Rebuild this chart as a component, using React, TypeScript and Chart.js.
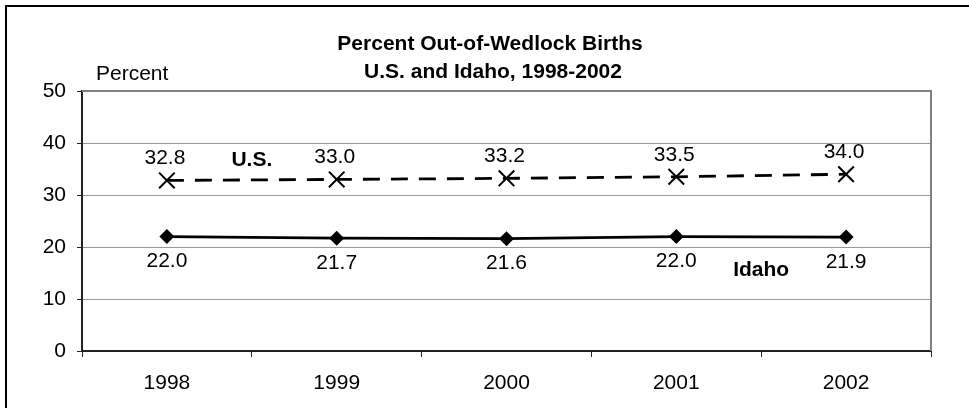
import React, { useEffect, useRef } from "react";
import { Chart, registerables } from "chart.js";

Chart.register(...registerables);

const years = ["1998", "1999", "2000", "2001", "2002"];
const usValues = [32.8, 33.0, 33.2, 33.5, 34.0];
const idahoValues = [22.0, 21.7, 21.6, 22.0, 21.9];
const yMin = 0;
const yMax = 50;
const yStep = 10;
const titleLines = ["Percent Out-of-Wedlock Births", "U.S. and Idaho, 1998-2002"];
const yAxisLabel = "Percent";
const seriesNames = ["U.S.", "Idaho"];

const FONT = "'Liberation Sans', Arial, sans-serif";

const decorPlugin = {
  id: "decor",
  afterDraw(chart: any) {
    const ctx = chart.ctx as CanvasRenderingContext2D;
    const area = chart.chartArea;
    const xs = chart.scales.x;
    const ys = chart.scales.y;
    ctx.save();
    // outer frame (top & left)
    ctx.fillStyle = "#000";
    ctx.fillRect(5, 5, chart.width - 5, 2);
    ctx.fillRect(5, 5, 2, chart.height - 5);

    // plot area border (top & right)
    ctx.fillStyle = "#808080";
    ctx.fillRect(area.left, area.top - 1, area.right - area.left + 1, 2);
    ctx.fillRect(area.right - 1, area.top - 1, 2, area.bottom - area.top + 1);

    // title
    ctx.fillStyle = "#000";
    ctx.textAlign = "center";
    ctx.textBaseline = "alphabetic";
    ctx.font = `bold 21px ${FONT}`;
    ctx.fillText(titleLines[0], 490, 50);
    ctx.fillText(titleLines[1], 493, 78);

    // y axis label
    ctx.font = `21px ${FONT}`;
    ctx.textAlign = "left";
    ctx.fillText(yAxisLabel, 96, 80);

    // data labels
    ctx.textAlign = "center";
    ctx.textBaseline = "middle";
    ctx.font = `21px ${FONT}`;
    usValues.forEach((v, i) => {
      const x = xs.getPixelForValue(i);
      const y = ys.getPixelForValue(v);
      ctx.fillText(v.toFixed(1), x - 2, y - 22);
    });
    idahoValues.forEach((v, i) => {
      const x = xs.getPixelForValue(i);
      const y = ys.getPixelForValue(v);
      ctx.fillText(v.toFixed(1), x, y + 25);
    });

    // series names
    ctx.font = `bold 21px ${FONT}`;
    ctx.fillText(seriesNames[0], xs.getPixelForValue(0.5), ys.getPixelForValue(36.7));
    ctx.fillText(seriesNames[1], xs.getPixelForValue(3.5), ys.getPixelForValue(15.6));
    ctx.restore();
  },
};

export default function App() {
  const ref = useRef<HTMLCanvasElement | null>(null);
  useEffect(() => {
    document.body.style.margin = "0";
    const canvas = ref.current!;
    const chart = new Chart(canvas, {
      type: "line",
      data: {
        labels: years,
        datasets: [
          {
            label: seriesNames[0],
            data: usValues,
            borderColor: "#000",
            backgroundColor: "#000",
            borderWidth: 2.8,
            borderDash: [17, 11],
            pointStyle: "crossRot",
            pointRadius: 11,
            pointBorderWidth: 2,
            pointBorderColor: "#000",
            tension: 0,
          },
          {
            label: seriesNames[1],
            data: idahoValues,
            borderColor: "#000",
            backgroundColor: "#000",
            borderWidth: 2.8,
            pointStyle: "rectRot",
            pointRadius: 7.5,
            pointBorderWidth: 0,
            pointBackgroundColor: "#000",
            tension: 0,
          },
        ],
      },
      options: {
        responsive: false,
        animation: false,
        devicePixelRatio: 1,
        layout: { padding: { top: 91, right: 38, left: 0, bottom: 0 } },
        plugins: {
          legend: { display: false },
          title: { display: false },
          tooltip: { enabled: false },
        },
        scales: {
          x: {
            type: "category",
            offset: true,
            grid: {
              offset: true,
              drawOnChartArea: false,
              tickLength: 6,
              tickColor: "#222",
              tickWidth: 1,
            },
            border: { color: "#222", width: 2 },
            ticks: {
              color: "#000",
              font: { family: FONT, size: 21 },
              padding: 14,
              maxRotation: 0,
            },
            afterFit(scale: any) {
              scale.height = 57;
            },
          },
          y: {
            min: yMin,
            max: yMax,
            ticks: {
              stepSize: yStep,
              color: "#000",
              font: { family: FONT, size: 21 },
              padding: 11,
            },
            grid: {
              color: "#999",
              lineWidth: 1,
              tickLength: 5,
              tickColor: "#222",
            },
            border: { color: "#222", width: 2 },
            afterFit(scale: any) {
              scale.width = 82;
            },
          },
        },
      },
      plugins: [decorPlugin],
    } as any);
    return () => chart.destroy();
  }, []);
  return (
    <div style={{ position: "absolute", left: 0, top: 0, width: 969, height: 408, background: "#fff" }}>
      <canvas ref={ref} width={969} height={408} style={{ display: "block" }} />
    </div>
  );
}
